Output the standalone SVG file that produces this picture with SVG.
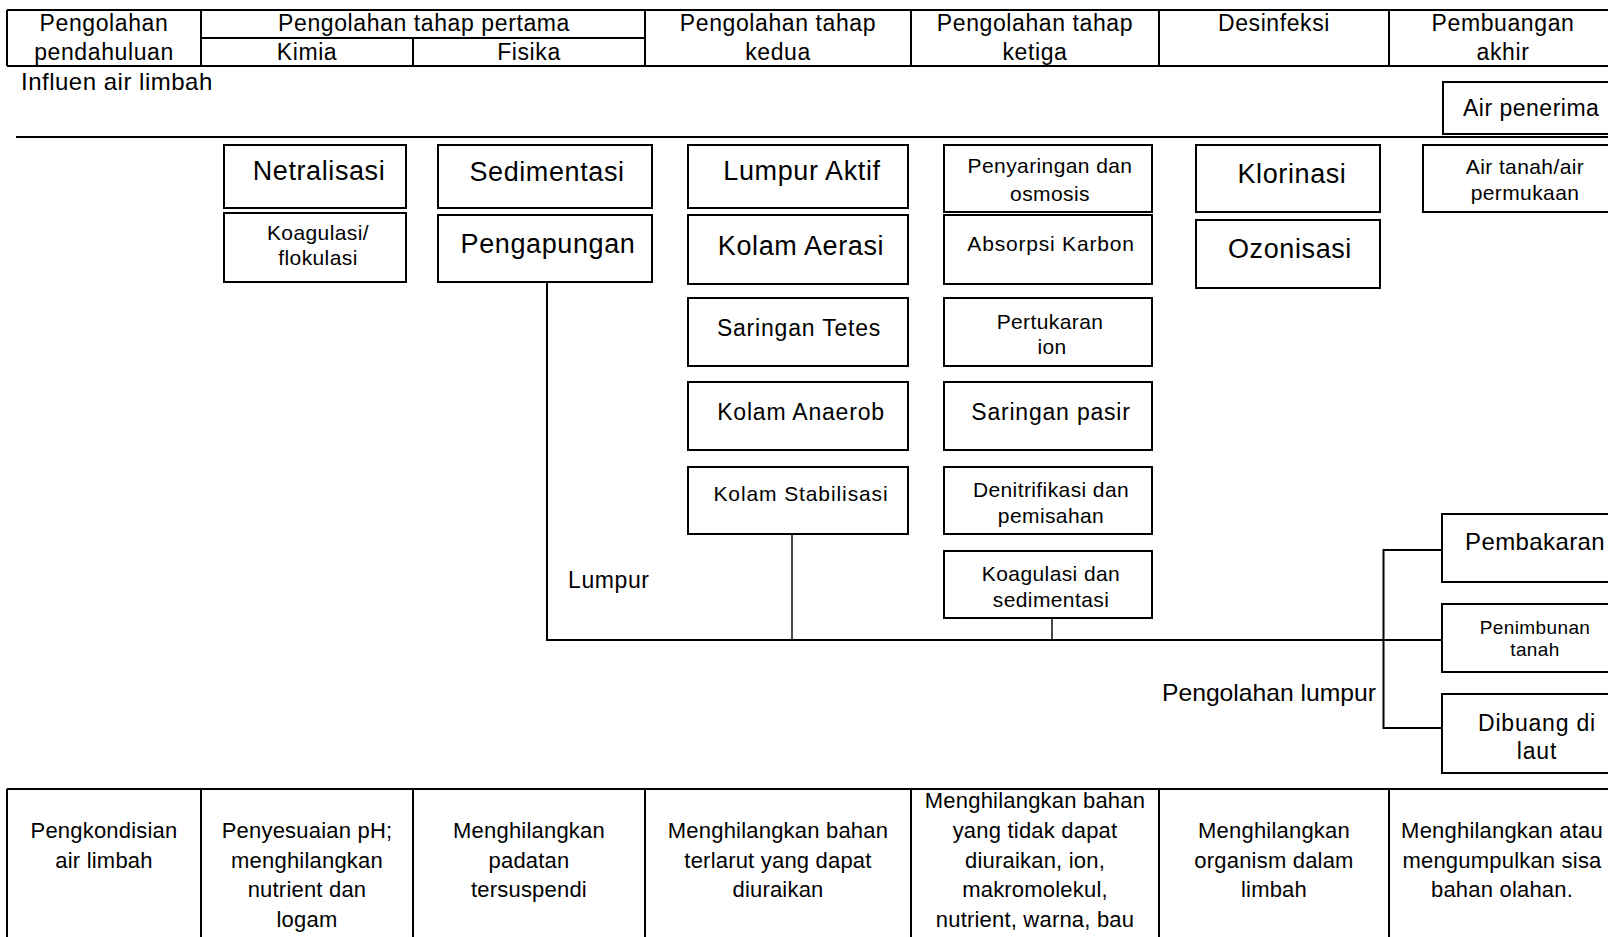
<svg xmlns="http://www.w3.org/2000/svg" width="1608" height="937" viewBox="0 0 1608 937">
<style>
.bx{fill:#fff;stroke:#000;stroke-width:2}
.ln{fill:none;stroke:#000;stroke-width:2}
.lt{fill:none;stroke:#000;stroke-width:1.4}
text{font-family:"Liberation Sans",Arial,sans-serif;fill:#000}
.c{text-anchor:middle}
.h{font-size:23px;letter-spacing:0.6px}
.b{font-size:22px;letter-spacing:0.2px}
.l{font-size:27px;letter-spacing:0.6px}
.m{font-size:23px;letter-spacing:0.8px}
.s{font-size:21px;letter-spacing:0.4px}
</style>
<rect width="1608" height="937" fill="#fff"/>

<g id="header-table">
<path class="ln" d="M7 10H1612M7 66H1612M7 10V66M201 10V66M645 10V66M911 10V66M1159 10V66M1389 10V66M201 38H645M413 38V66"/>
<text class="c h" x="104" y="31">Pengolahan</text>
<text class="c h" x="104" y="60">pendahuluan</text>
<text class="c h" x="424" y="31">Pengolahan tahap pertama</text>
<text class="c h" x="307" y="60">Kimia</text>
<text class="c h" x="529" y="60">Fisika</text>
<text class="c h" x="778" y="31">Pengolahan tahap</text>
<text class="c h" x="778" y="60">kedua</text>
<text class="c h" x="1035" y="31">Pengolahan tahap</text>
<text class="c h" x="1035" y="60">ketiga</text>
<text class="c h" x="1274" y="31">Desinfeksi</text>
<text class="c h" x="1503" y="31">Pembuangan</text>
<text class="c h" x="1503" y="60">akhir</text>
</g>

<g id="influent">
<text x="21" y="90" style="font-size:24px;letter-spacing:0.5px">Influen air limbah</text>
<path class="ln" d="M16 137H1612"/>
</g>

<g id="air-penerima"><rect class="bx" x="1443" y="82" width="170" height="52"/><text x="1463" y="116" style="font-size:23px;letter-spacing:0.5px">Air penerima</text></g>

<g id="netralisasi"><rect class="bx" x="224" y="145" width="182" height="63"/><text class="c l" x="319" y="180">Netralisasi</text></g>
<g id="koagulasi-flokulasi"><rect class="bx" x="224" y="213" width="182" height="69"/><text class="c s" x="318" y="240">Koagulasi/</text><text class="c s" x="318" y="265">flokulasi</text></g>
<g id="sedimentasi"><rect class="bx" x="438" y="145" width="214" height="63"/><text class="c l" x="547" y="181">Sedimentasi</text></g>
<g id="pengapungan"><rect class="bx" x="438" y="215" width="214" height="67"/><text class="c l" x="548" y="253">Pengapungan</text></g>

<g id="lumpur-aktif"><rect class="bx" x="688" y="145" width="220" height="63"/><text class="c l" x="802" y="180">Lumpur Aktif</text></g>
<g id="kolam-aerasi"><rect class="bx" x="688" y="215" width="220" height="69"/><text class="c l" x="801" y="255">Kolam Aerasi</text></g>
<g id="saringan-tetes"><rect class="bx" x="688" y="298" width="220" height="68"/><text class="c m" x="799" y="336">Saringan Tetes</text></g>
<g id="kolam-anaerob"><rect class="bx" x="688" y="382" width="220" height="68"/><text class="c m" x="801" y="420">Kolam Anaerob</text></g>
<g id="kolam-stabilisasi"><rect class="bx" x="688" y="467" width="220" height="67"/><text class="c s" x="801" y="501" style="letter-spacing:0.9px">Kolam Stabilisasi</text></g>

<g id="penyaringan-osmosis"><rect class="bx" x="944" y="145" width="208" height="67"/><text class="c s" x="1050" y="173">Penyaringan dan</text><text class="c s" x="1050" y="201">osmosis</text></g>
<g id="absorpsi-karbon"><rect class="bx" x="944" y="215" width="208" height="69"/><text class="c s" x="1051" y="251" style="letter-spacing:0.8px">Absorpsi Karbon</text></g>
<g id="pertukaran-ion"><rect class="bx" x="944" y="298" width="208" height="68"/><text class="c s" x="1050" y="329">Pertukaran</text><text class="c s" x="1052" y="354">ion</text></g>
<g id="saringan-pasir"><rect class="bx" x="944" y="382" width="208" height="68"/><text class="c m" x="1051" y="420">Saringan pasir</text></g>
<g id="denitrifikasi"><rect class="bx" x="944" y="467" width="208" height="67"/><text class="c s" x="1051" y="497">Denitrifikasi dan</text><text class="c s" x="1051" y="523">pemisahan</text></g>
<g id="koagulasi-sedimentasi"><rect class="bx" x="944" y="551" width="208" height="67"/><text class="c s" x="1051" y="581">Koagulasi dan</text><text class="c s" x="1051" y="607">sedimentasi</text></g>

<g id="klorinasi"><rect class="bx" x="1196" y="145" width="184" height="67"/><text class="c l" x="1292" y="183">Klorinasi</text></g>
<g id="ozonisasi"><rect class="bx" x="1196" y="220" width="184" height="68"/><text class="c l" x="1290" y="258">Ozonisasi</text></g>

<g id="air-tanah"><rect class="bx" x="1423" y="145" width="190" height="67"/><text class="c s" x="1525" y="174">Air tanah/air</text><text class="c s" x="1525" y="200">permukaan</text></g>

<g id="pembakaran"><rect class="bx" x="1442" y="514" width="171" height="68"/><text x="1465" y="550" style="font-size:24px;letter-spacing:0.4px">Pembakaran</text></g>
<g id="penimbunan-tanah"><rect class="bx" x="1442" y="604" width="171" height="68"/><text class="c" x="1535" y="634" style="font-size:19px;letter-spacing:0.4px">Penimbunan</text><text class="c" x="1535" y="656" style="font-size:19px;letter-spacing:0.4px">tanah</text></g>
<g id="dibuang-laut"><rect class="bx" x="1442" y="694" width="171" height="79"/><text class="c m" x="1537" y="731">Dibuang di</text><text class="c m" x="1537" y="759">laut</text></g>

<g id="connectors">
<path class="ln" d="M547 282V640H1442"/>
<path class="lt" d="M792 534V640M1052 618V640"/>
<path class="ln" d="M1442 550H1383.5V728H1442"/>
</g>

<g id="labels">
<text x="568" y="588" style="font-size:23px;letter-spacing:0.6px">Lumpur</text>
<text x="1376" y="701" text-anchor="end" style="font-size:24px" textLength="214" lengthAdjust="spacingAndGlyphs">Pengolahan lumpur</text>
</g>

<g id="purpose-table">
<path class="ln" d="M7 789H1612M7 789V940M201 789V940M413 789V940M645 789V940M911 789V940M1159 789V940M1389 789V940"/>
<text class="c b" x="104" y="838">Pengkondisian</text>
<text class="c b" x="104" y="868">air limbah</text>
<text class="c b" x="307" y="838">Penyesuaian pH;</text>
<text class="c b" x="307" y="868">menghilangkan</text>
<text class="c b" x="307" y="897">nutrient dan</text>
<text class="c b" x="307" y="927">logam</text>
<text class="c b" x="529" y="838">Menghilangkan</text>
<text class="c b" x="529" y="868">padatan</text>
<text class="c b" x="529" y="897">tersuspendi</text>
<text class="c b" x="778" y="838">Menghilangkan bahan</text>
<text class="c b" x="778" y="868">terlarut yang dapat</text>
<text class="c b" x="778" y="897">diuraikan</text>
<text class="c b" x="1035" y="808">Menghilangkan bahan</text>
<text class="c b" x="1035" y="838">yang tidak dapat</text>
<text class="c b" x="1035" y="868">diuraikan, ion,</text>
<text class="c b" x="1035" y="897">makromolekul,</text>
<text class="c b" x="1035" y="927">nutrient, warna, bau</text>
<text class="c b" x="1274" y="838">Menghilangkan</text>
<text class="c b" x="1274" y="868">organism dalam</text>
<text class="c b" x="1274" y="897">limbah</text>
<text class="c b" x="1502" y="838">Menghilangkan atau</text>
<text class="c b" x="1502" y="868">mengumpulkan sisa</text>
<text class="c b" x="1502" y="897">bahan olahan.</text>
</g>
</svg>
